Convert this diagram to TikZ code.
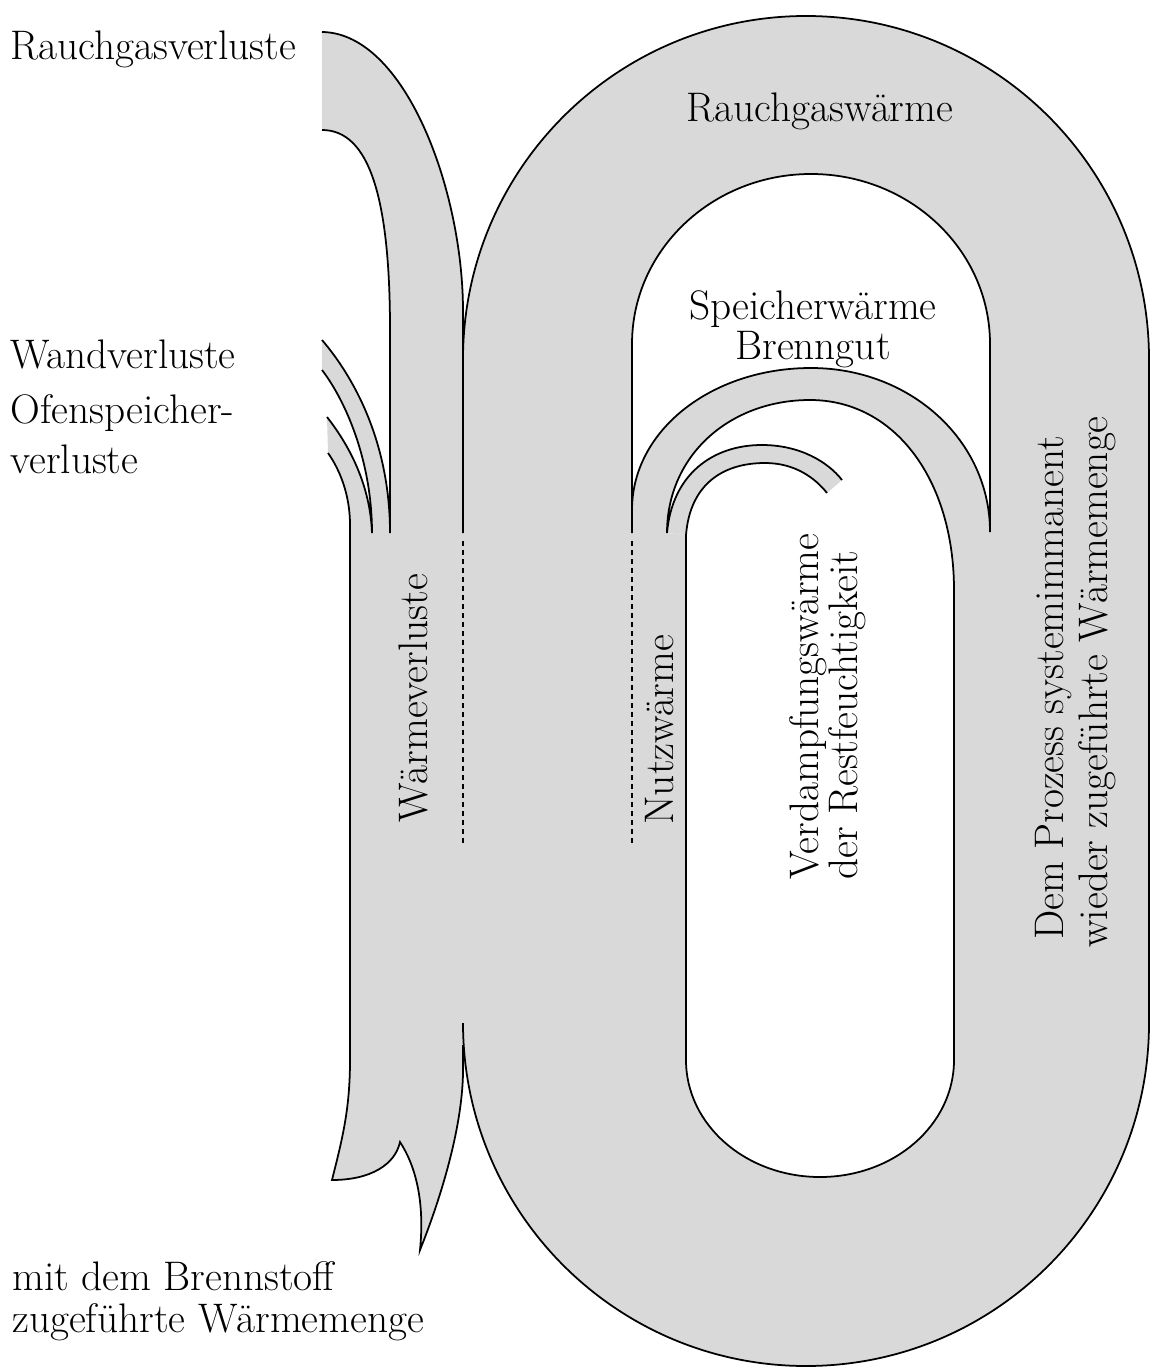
\documentclass[tikz,border=0pt]{standalone}
\usepackage{xcolor}
\usepackage{tikz}
\definecolor{flowgray}{RGB}{217,217,217}

\begin{document}
\begin{tikzpicture}[
    x=0.2mm, y=-0.2mm,
    flow/.style={fill=flowgray, draw=none},
    hole/.style={fill=white, draw=none},
    rim/.style={draw, line width=1pt},
    seam/.style={draw, line width=1pt, dash pattern=on 1mm off 0.8mm},
    tag/.style={font=\fontsize{23.5}{27}\selectfont, inner sep=0pt, anchor=base west},
    midtag/.style={font=\fontsize{23.5}{27}\selectfont, inner sep=0pt, anchor=base}
]
\useasboundingbox (0,0) rectangle (1154,1369);

% grey bands
\fill[flow] (463,359) .. controls (463,169.6) and (616.6,16) .. (806,16) .. controls (995.4,16) and (1149,169.6) .. (1149,359) -- (1149,1023) .. controls (1149,1212.4) and (995.4,1366) .. (806,1366) .. controls (616.6,1366) and (463,1212.4) .. (463,1023) -- cycle;
\fill[flow] (322,32) .. controls (405,33) and (463,190) .. (463,311) -- (470,340) -- (470,1045) -- (463,1073) .. controls (462,1130) and (440,1200) .. (420,1250) .. controls (425,1200) and (415,1165) .. (400,1142) .. controls (395,1165) and (370,1180) .. (332,1180) .. controls (342,1140) and (350,1110) .. (350,1060) -- (350,525) .. controls (350,495) and (340,470) .. (328,453) -- (327,417) .. controls (345,440) and (370,480) .. (372,533) .. controls (372,460) and (345,400) .. (322,370) -- (322,340) .. controls (352,375) and (390,440) .. (390,533) -- (390,330) .. controls (390,200) and (370,130) .. (322,130) -- cycle;

% white gaps
\fill[hole] (632,510) -- (632,344) .. controls (632,250.1) and (712.1,174) .. (811,174) .. controls (909.9,174) and (990,250.1) .. (990,344) -- (990,532) .. controls (990,440) and (910,368) .. (811,368) .. controls (712,368) and (632,430) .. (632,510) -- cycle;
\fill[hole] (667,533) .. controls (667,455) and (730,400) .. (810,400) .. controls (895,400) and (954,480) .. (954,590) -- (954,1060) .. controls (954,1125) and (894,1177) .. (820,1177) .. controls (746,1177) and (686,1125) .. (686,1060) -- (686,535) -- cycle;
\fill[flow] (667,533) .. controls (672,475) and (712,445) .. (762,445) .. controls (800,445) and (828,462) .. (842,480) -- (827,493) .. controls (815,478) and (795,463) .. (765,463) .. controls (722,463) and (690,485) .. (686,535) -- cycle;

% outlines
\draw[rim] (463,359) .. controls (463,169.6) and (616.6,16) .. (806,16) .. controls (995.4,16) and (1149,169.6) .. (1149,359) -- (1149,1023) .. controls (1149,1212.4) and (995.4,1366) .. (806,1366) .. controls (616.6,1366) and (463,1212.4) .. (463,1023);
\draw[rim] (322,32) .. controls (405,33) and (463,190) .. (463,311) -- (463,533);
\draw[seam] (463,541) -- (463,845);
\draw[rim] (463,1045) -- (463,1073) .. controls (462,1130) and (440,1200) .. (420,1250) .. controls (425,1200) and (415,1165) .. (400,1142) .. controls (395,1165) and (370,1180) .. (332,1180) .. controls (342,1140) and (350,1110) .. (350,1060) -- (350,525) .. controls (350,495) and (340,470) .. (328,453);
\draw[rim] (327,417) .. controls (345,440) and (370,480) .. (372,533) .. controls (372,460) and (345,400) .. (322,370);
\draw[rim] (322,340) .. controls (352,375) and (390,440) .. (390,533) -- (390,330) .. controls (390,200) and (370,130) .. (322,130);
\draw[rim] (632,533) -- (632,344) .. controls (632,250.1) and (712.1,174) .. (811,174) .. controls (909.9,174) and (990,250.1) .. (990,344) -- (990,532) .. controls (990,440) and (910,368) .. (811,368) .. controls (712,368) and (632,430) .. (632,510);
\draw[seam] (632,541) -- (632,845);
\draw[rim] (827,493) .. controls (815,478) and (795,463) .. (765,463) .. controls (722,463) and (690,485) .. (686,535) -- (686,1060) .. controls (686,1125) and (746,1177) .. (820,1177) .. controls (894,1177) and (954,1125) .. (954,1060) -- (954,590) .. controls (954,480) and (895,400) .. (810,400) .. controls (730,400) and (667,455) .. (667,533) .. controls (672,475) and (712,445) .. (762,445) .. controls (800,445) and (828,462) .. (842,480);

% labels
\node[tag] (rgv) at (10,60) {Rauchgasverluste};
\node[tag] (wv) at (10,369) {Wandverluste};
\node[tag] (osv) at (10,424) {Ofenspeicher-};
\node[tag] (osv2) at (10,473) {verluste};
\node[tag] (bs) at (12,1290) {mit dem Brennstoff};
\node[tag] (bs2) at (12,1332) {zugeführte Wärmemenge};
\node[midtag] (rgw) at (820,122) {Rauchgaswärme};
\node[midtag] (swb) at (813,320) {Speicherwärme};
\node[midtag] (swb2) at (813,360) {Brenngut};
\node[tag, rotate=90] (wvl) at (427,823) {Wärmeverluste};
\node[tag, rotate=90] (nw) at (673,825) {Nutzwärme};
\node[tag, rotate=90] (vdw) at (818,880) {Verdampfungswärme};
\node[tag, rotate=90] (vdw2) at (857,880) {der Restfeuchtigkeit};
\node[tag, rotate=90] (sys) at (1063,940) {Dem Prozess systemimmanent};
\node[tag, rotate=90] (sys2) at (1107,948) {wieder zugeführte Wärmemenge};
\end{tikzpicture}
\end{document}
